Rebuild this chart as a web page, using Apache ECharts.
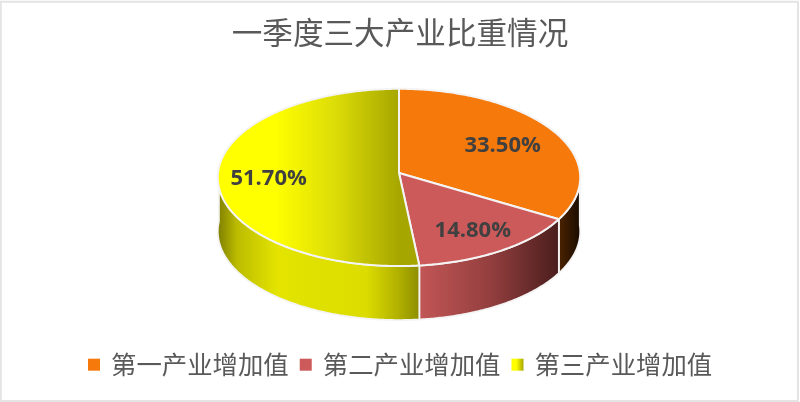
<!DOCTYPE html>
<html><head><meta charset="utf-8">
<style>html,body{margin:0;padding:0;background:#fff}#c{width:800px;height:402px}</style>
<script src="https://cdn.jsdelivr.net/npm/echarts@6/dist/echarts.min.js"></script>
</head><body><div id="c"></div>
<script>
const titleText = '一季度三大产业比重情况';
const categories = ['第一产业增加值', '第二产业增加值', '第三产业增加值'];
const shares = [33.5, 14.8, 51.7];
const labelTexts = ['33.50%', '14.80%', '51.70%'];

// Pie projection (tilted, mild perspective)
const CX = 399, CY = 173, RX = 181, RY = 88.4, K = 0.05, DEPTH = 54;
const total = shares.reduce((a, b) => a + b, 0);
function rim(theta, r, drop) {
  const u = Math.sin(theta) * r, v = -Math.cos(theta) * r;
  const w = 1 / (1 - K * v);
  return [CX + RX * u * w, CY + RY * v * w + (drop || 0)];
}
function arcPoints(a0, a1, drop) {
  const n = Math.max(2, Math.ceil(Math.abs(a1 - a0) / 0.01));
  const pts = [];
  for (let i = 0; i <= n; i++) pts.push(rim(a0 + (a1 - a0) * i / n, 1, drop));
  return pts;
}
function lg(x0, x1, stops) {
  return new echarts.graphic.LinearGradient(x0, 0, x1, 0,
    stops.map(s => ({ offset: s[0], color: s[1] })), true);
}
const topFills = [
  () => '#f6790b',
  () => '#cd5a5a',
  () => lg(217, 399, [[0, '#ffff00'], [0.32, '#ffff00'], [0.65, '#dcdc08'], [1, '#a6a600']])
];
const sideFills = [
  () => lg(558, 581, [[0, '#4d2400'], [1, '#170a00']]),
  () => lg(419, 558, [[0, '#c25656'], [0.5, '#953f3f'], [1, '#4c1e1e']]),
  () => lg(217, 419, [[0, '#7c7c00'], [0.1, '#bcbc00'], [0.3, '#e4e400'], [0.74, '#dcdc00'], [0.9, '#b0b000'], [1, '#8e8e00']])
];
const labelR = [0.67, 0.73, 0.72];
const legendFills = ['#f6790b', '#cd5a5a',
  new echarts.graphic.LinearGradient(0, 0, 1, 0, [{offset:0,color:'#ffff00'},{offset:0.4,color:'#ffff00'},{offset:1,color:'#a6a600'}])];

function sliceRenderer(idx) {
  return function (params, api) {
    const val = api.value(0);
    const before = shares.slice(0, idx).reduce((a, b) => a + b, 0);
    const a0 = before / total * 2 * Math.PI;
    const a1 = (before + val) / total * 2 * Math.PI;
    const children = [];
    // visible outer wall: front half of the rim only
    const s0 = Math.max(a0, Math.PI * 0.5 - 0.02), s1 = Math.min(a1, Math.PI * 1.52);
    if (s1 > s0) {
      const top = arcPoints(s0, s1, 0), bottom = arcPoints(s1, s0, DEPTH);
      children.push({ type: 'polygon', shape: { points: top.concat(bottom) },
        style: { fill: sideFills[idx](), stroke: '#f4f4f4', lineWidth: 1.8, lineJoin: 'round' } });
    }
    // top face
    const pts = [[CX, CY]].concat(arcPoints(a0, a1, 0));
    children.push({ type: 'polygon', shape: { points: pts },
      style: { fill: topFills[idx](), stroke: '#f4f4f4', lineWidth: 2, lineJoin: 'round' } });
    // label
    const p = rim((a0 + a1) / 2, labelR[idx], 0);
    children.push({ type: 'text', x: p[0], y: p[1] + 2, z2: 10,
      style: { text: labelTexts[idx], fill: '#404040', align: 'center', verticalAlign: 'middle',
        font: 'bold 22px "Open Sans", sans-serif' } });
    return { type: 'group', children };
  };
}

const chart = echarts.init(document.getElementById('c'), null, { renderer: 'canvas' });
chart.setOption({
  animation: false,
  backgroundColor: '#fff',
  graphic: [{ type: 'rect', silent: true, z: -1,
    shape: { x: 0.8, y: 1.8, width: 797.2, height: 399.2 },
    style: { fill: 'none', stroke: '#e4e4e4', lineWidth: 2 } }],
  title: { text: titleText, left: 'center', top: 12,
    textStyle: { fontFamily: '"Noto Sans CJK SC"', fontSize: 30.6, fontWeight: 'normal', color: '#595959' } },
  legend: { left: 88, top: 352, padding: 0, itemWidth: 12, itemHeight: 12, itemGap: 11, icon: 'rect',
    data: categories.map((name, i) => ({ name, itemStyle: { color: legendFills[i] } })),
    textStyle: { fontFamily: '"Noto Sans CJK SC"', fontSize: 25.4, color: '#595959', padding: [0, 0, 0, 6] } },
  series: categories.map((name, i) => ({
    type: 'custom', name, coordinateSystem: 'none', silent: true,
    itemStyle: { color: legendFills[i] },
    renderItem: sliceRenderer(i),
    data: [[shares[i]]]
  }))
});
</script></body></html>
